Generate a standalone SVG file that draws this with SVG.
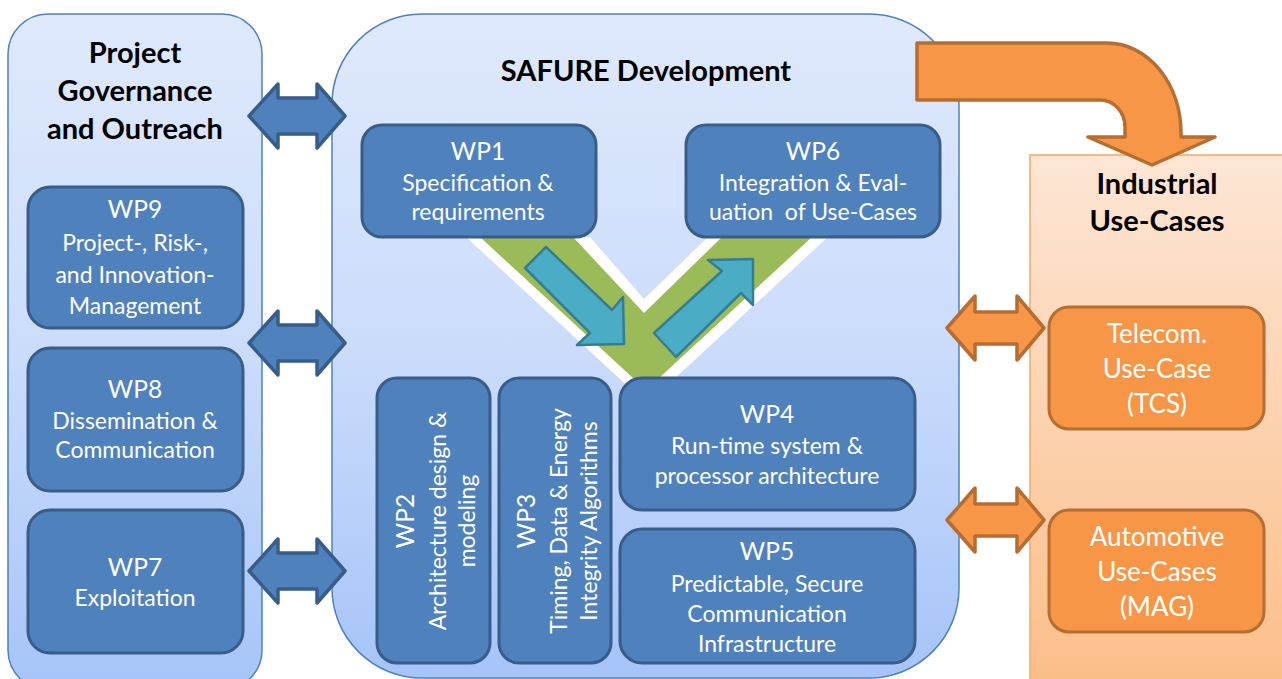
<svg xmlns="http://www.w3.org/2000/svg" width="1282" height="679" viewBox="0 0 1282 679">
  <defs>
    <linearGradient id="blueGrad" x1="0" y1="0" x2="0" y2="1">
      <stop offset="0" stop-color="#dfe9fc"/>
      <stop offset="0.5" stop-color="#cbdcfb"/>
      <stop offset="1" stop-color="#a6c4f8"/>
    </linearGradient>
    <linearGradient id="peachGrad" x1="0" y1="0" x2="0" y2="1">
      <stop offset="0" stop-color="#fde6d5"/>
      <stop offset="1" stop-color="#fbbd87"/>
    </linearGradient>
    <style>
      .panel { fill: url(#blueGrad); stroke: #4f81bd; stroke-width: 1.5; }
      .panel-o { fill: url(#peachGrad); stroke: #f7a863; stroke-width: 1.5; }
      .box { fill: #4f81bd; stroke: #385d8a; stroke-width: 3; }
      .obox { fill: #f79646; stroke: #b66d31; stroke-width: 3; }
      .barrow { fill: #4f81bd; stroke: #385d8a; stroke-width: 3.5; stroke-linejoin: round; }
      .oarrow { fill: #f79646; stroke: #b66d31; stroke-width: 3.5; stroke-linejoin: round; }
      .tarrow { fill: #4bacc6; stroke: #357d91; stroke-width: 2.5; stroke-linejoin: round; }
      .head { font-family: Lato, "Liberation Sans", sans-serif; font-weight: bold; font-size: 29px; fill: #000; text-anchor: middle; }
      .wp { font-family: Lato, "Liberation Sans", sans-serif; font-size: 24.5px; fill: #fff; text-anchor: middle; }
      .desc { font-family: Lato, "Liberation Sans", sans-serif; font-size: 23px; fill: #fff; text-anchor: middle; }
      .uc { font-family: Lato, "Liberation Sans", sans-serif; font-size: 26px; fill: #fff; text-anchor: middle; }
    </style>
  </defs>

  <!-- outer panels -->
  <g id="governance">
    <rect class="panel" x="8" y="14" width="254" height="676" rx="40"/>
    <text class="head"><tspan x="135" y="63">Project</tspan><tspan x="135" y="101">Governance</tspan><tspan x="135" y="139">and Outreach</tspan></text>
  </g>

  <g id="industrial">
    <rect class="panel-o" x="1030" y="155" width="262" height="540"/>
    <text class="head"><tspan x="1157" y="194">Industrial</tspan><tspan x="1157" y="231">Use-Cases</tspan></text>
  </g>

  <g id="development">
    <rect class="panel" x="332" y="14" width="627" height="664" rx="90"/>
    <text class="head" x="646" y="81">SAFURE Development</text>
  </g>

  <!-- V-model flow between the work packages -->
  <g id="flow">
    <polygon fill="#ffffff" points="466,237 590,237 644,299 708,237 828,237 647,404"/>
    <polygon fill="#9bbb59" points="480,237 573,237 644,313 722,237 812,237 646,390"/>
    <path class="tarrow" d="M546,247 L612,310 L623,297 L624,344 L577,345 L590,333 L525,268 Z"/>
    <path class="tarrow" d="M654,333 L722,271 L708,260 L753,259 L753,305 L741,293 L676,357 Z"/>
  </g>

  <!-- work packages -->
  <g id="wp9">
    <rect class="box" x="28" y="187" width="215" height="141" rx="22"/>
    <text class="wp" x="135" y="218">WP9</text>
    <text class="desc"><tspan x="135" y="251">Project-, Risk-,</tspan><tspan x="135" y="283">and Innovation-</tspan><tspan x="135" y="314">Management</tspan></text>
  </g>
  <g id="wp8">
    <rect class="box" x="28" y="348" width="215" height="143" rx="22"/>
    <text class="wp" x="135" y="398">WP8</text>
    <text class="desc"><tspan x="135" y="429">Dissemination &amp;</tspan><tspan x="135" y="458">Communication</tspan></text>
  </g>
  <g id="wp7">
    <rect class="box" x="28" y="510" width="215" height="143" rx="22"/>
    <text class="wp" x="135" y="576">WP7</text>
    <text class="desc" x="135" y="606">Exploitation</text>
  </g>

  <g id="wp1">
    <rect class="box" x="362" y="125" width="234" height="112" rx="20"/>
    <text class="wp" x="478" y="160">WP1</text>
    <text class="desc"><tspan x="478" y="191">Specification &amp;</tspan><tspan x="478" y="220">requirements</tspan></text>
  </g>
  <g id="wp6">
    <rect class="box" x="686" y="125" width="254" height="112" rx="20"/>
    <text class="wp" x="813" y="160">WP6</text>
    <text class="desc"><tspan x="813" y="191">Integration &amp; Eval-</tspan><tspan x="813" y="220" xml:space="preserve">uation  of Use-Cases</tspan></text>
  </g>

  <g id="wp2">
    <rect class="box" x="377" y="378" width="113" height="285" rx="20"/>
    <g transform="translate(433,521) rotate(-90)">
      <text class="wp" x="0" y="-19">WP2</text>
      <text class="desc"><tspan x="0" y="13">Architecture design &amp;</tspan><tspan x="0" y="42">modeling</tspan></text>
    </g>
  </g>
  <g id="wp3">
    <rect class="box" x="499" y="378" width="112" height="285" rx="20"/>
    <g transform="translate(555,521) rotate(-90)">
      <text class="wp" x="0" y="-20">WP3</text>
      <text class="desc"><tspan x="0" y="12">Timing, Data &amp; Energy</tspan><tspan x="0" y="42">Integrity Algorithms</tspan></text>
    </g>
  </g>
  <g id="wp4">
    <rect class="box" x="620" y="378" width="295" height="132" rx="22"/>
    <text class="wp" x="767" y="423">WP4</text>
    <text class="desc"><tspan x="767" y="454">Run-time system &amp;</tspan><tspan x="767" y="484">processor architecture</tspan></text>
  </g>
  <g id="wp5">
    <rect class="box" x="620" y="529" width="295" height="134" rx="22"/>
    <text class="wp" x="767" y="560">WP5</text>
    <text class="desc"><tspan x="767" y="592">Predictable, Secure</tspan><tspan x="767" y="622">Communication</tspan><tspan x="767" y="652">Infrastructure</tspan></text>
  </g>

  <g id="tcs">
    <rect class="obox" x="1049" y="307" width="215" height="122" rx="20"/>
    <text class="uc"><tspan x="1157" y="343">Telecom.</tspan><tspan x="1157" y="378">Use-Case</tspan><tspan x="1157" y="413">(TCS)</tspan></text>
  </g>
  <g id="mag">
    <rect class="obox" x="1049" y="510" width="215" height="122" rx="20"/>
    <text class="uc"><tspan x="1157" y="546">Automotive</tspan><tspan x="1157" y="581">Use-Cases</tspan><tspan x="1157" y="616">(MAG)</tspan></text>
  </g>

  <!-- connectors -->
  <g id="connectors">
    <path class="barrow" d="M249,116 L278,84 L278,98 L317,98 L317,84 L345,116 L317,148 L317,134 L278,134 L278,148 Z"/>
    <path class="barrow" d="M249,343 L278,311 L278,325 L317,325 L317,311 L345,343 L317,375 L317,361 L278,361 L278,375 Z"/>
    <path class="barrow" d="M249,571 L278,539 L278,553 L317,553 L317,539 L345,571 L317,603 L317,589 L278,589 L278,603 Z"/>
    <path class="oarrow" d="M947,328 L975,296 L975,312 L1017,312 L1017,296 L1044,328 L1017,360 L1017,344 L975,344 L975,360 Z"/>
    <path class="oarrow" d="M947,520 L975,488 L975,504 L1017,504 L1017,488 L1044,520 L1017,552 L1017,536 L975,536 L975,552 Z"/>
    <path class="oarrow" d="M917,43 L1107,43 A74 90 0 0 1 1181,133 L1181,137 L1215,137 L1152,165 L1088,137 L1125,137 L1125,127 A25 27 0 0 0 1100,100 L917,100 Z"/>
  </g>
</svg>
